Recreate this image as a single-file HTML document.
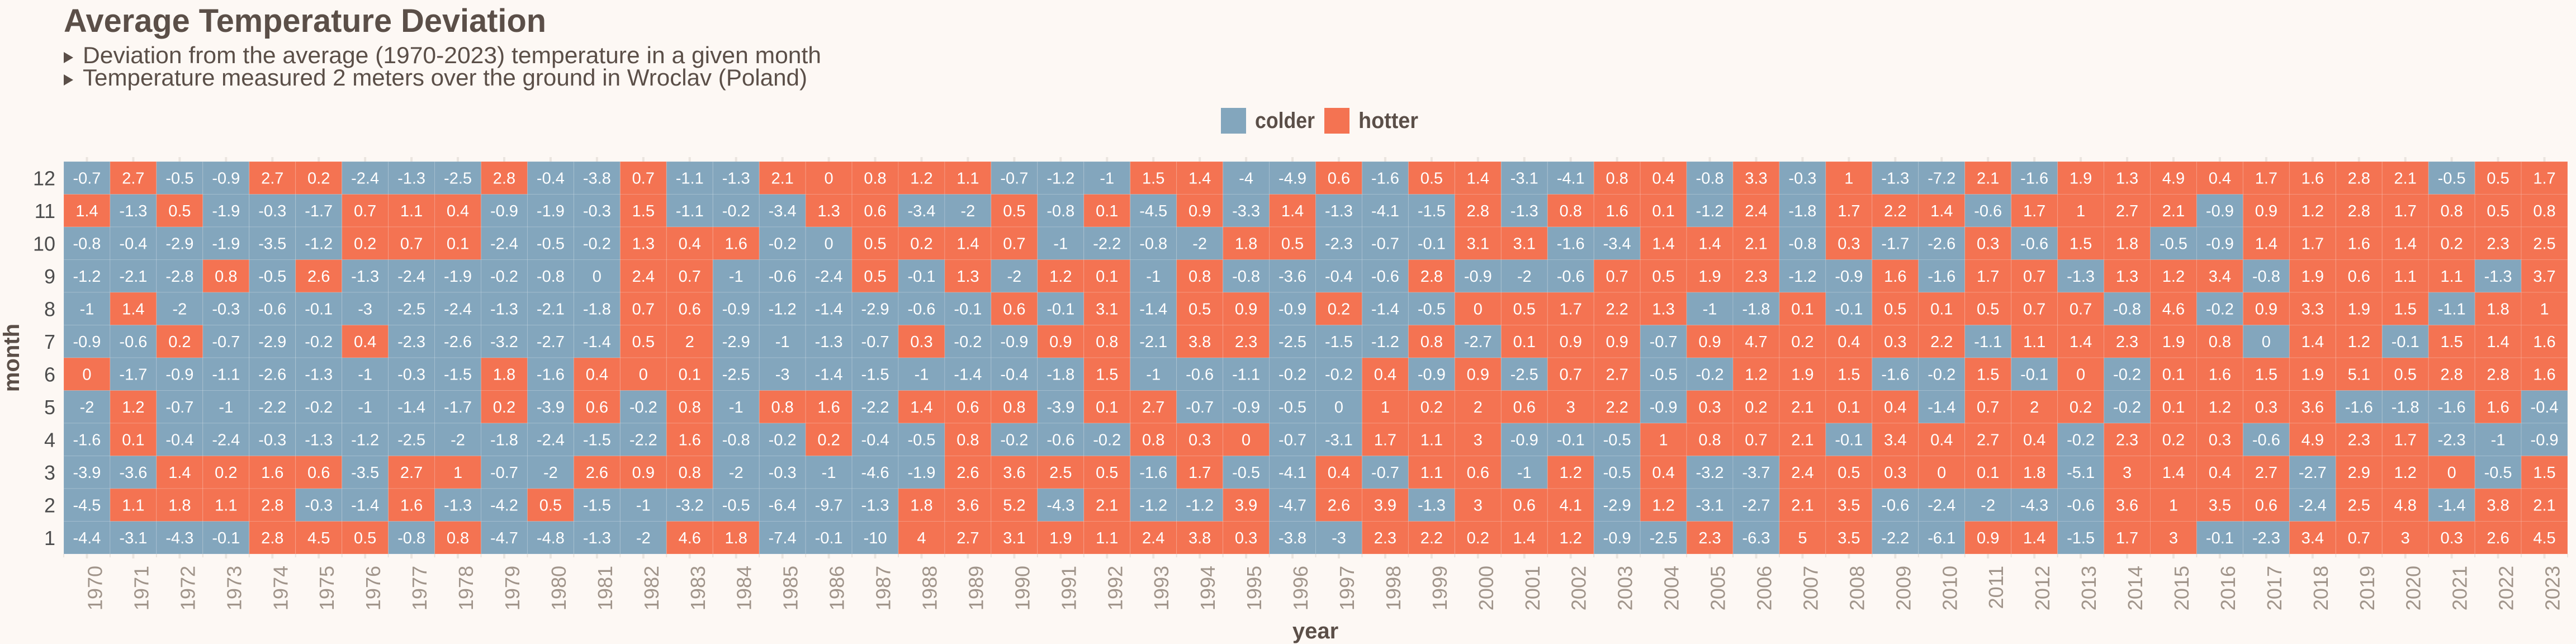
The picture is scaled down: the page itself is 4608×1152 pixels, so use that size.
<!DOCTYPE html>
<html><head><meta charset="utf-8"><title>Average Temperature Deviation</title>
<style>
html,body{margin:0;padding:0;background:#fdf8f4;}
svg{display:block;font-family:"Liberation Sans",sans-serif;}
</style></head>
<body>
<svg id="chart" width="4608" height="1152" viewBox="0 0 4608 1152" xmlns="http://www.w3.org/2000/svg">
<rect width="4608" height="1152" fill="#fdf8f4"/>
<text x="114" y="57" font-size="58" font-weight="bold" fill="#5b4f48" textLength="863" lengthAdjust="spacingAndGlyphs">Average Temperature Deviation</text>
<polygon points="114,93 131,103 114,113" fill="#5b4f48"/>
<text x="148" y="113" font-size="42" fill="#5b4f48" textLength="1321" lengthAdjust="spacingAndGlyphs">Deviation from the average (1970-2023) temperature in a given month</text>
<polygon points="114,133 131,143 114,153" fill="#5b4f48"/>
<text x="148" y="153" font-size="42" fill="#5b4f48" textLength="1296" lengthAdjust="spacingAndGlyphs">Temperature  measured 2 meters over the ground in Wroclav (Poland)</text>
<g>
<rect x="2184" y="193" width="45" height="46" fill="#83a6bd"/>
<text x="2245" y="229" font-size="40" font-weight="bold" fill="#5b4f48" textLength="107" lengthAdjust="spacingAndGlyphs">colder</text>
<rect x="2369" y="193" width="45" height="46" fill="#f47352"/>
<text x="2430" y="229" font-size="40" font-weight="bold" fill="#5b4f48" textLength="107" lengthAdjust="spacingAndGlyphs">hotter</text>
</g>
<text transform="translate(34,640) rotate(-90)" text-anchor="middle" font-size="40" font-weight="bold" fill="#5b4f48">month</text>
<text x="2353" y="1142" text-anchor="middle" font-size="40" font-weight="bold" fill="#5b4f48">year</text>
<g id="cells"></g>
<g id="xticks"></g>
<g id="yticks"></g>
</svg>
<script>
const years = [1970,1971,1972,1973,1974,1975,1976,1977,1978,1979,1980,1981,1982,1983,1984,1985,1986,1987,1988,1989,1990,1991,1992,1993,1994,1995,1996,1997,1998,1999,2000,2001,2002,2003,2004,2005,2006,2007,2008,2009,2010,2011,2012,2013,2014,2015,2016,2017,2018,2019,2020,2021,2022,2023];
const monthLabels = [12,11,10,9,8,7,6,5,4,3,2,1];
const dec = [-0.7,2.7,-0.5,-0.9,2.7,0.2,-2.4,-1.3,-2.5, 2.8,-0.4,-3.8,0.7,-1.1,-1.3,2.1,0,0.8, 1.2,1.1,-0.7,-1.2,-1,1.5,1.4,-4,-4.9, 0.6,-1.6,0.5,1.4,-3.1,-4.1,0.8,0.4,-0.8, 3.3,-0.3,1,-1.3,-7.2,2.1,-1.6,1.9,1.3, 4.9,0.4,1.7,1.6,2.8,2.1,-0.5,0.5,1.7];
const nov = [1.4,-1.3,0.5,-1.9,-0.3,-1.7,0.7,1.1,0.4, -0.9,-1.9,-0.3,1.5,-1.1,-0.2,-3.4,1.3,0.6, -3.4,-2,0.5,-0.8,0.1,-4.5,0.9,-3.3,1.4, -1.3,-4.1,-1.5,2.8,-1.3,0.8,1.6,0.1,-1.2, 2.4,-1.8,1.7,2.2,1.4,-0.6,1.7,1,2.7, 2.1,-0.9,0.9,1.2,2.8,1.7,0.8,0.5,0.8];
const oct = [-0.8,-0.4,-2.9,-1.9,-3.5,-1.2,0.2,0.7,0.1, -2.4,-0.5,-0.2,1.3,0.4,1.6,-0.2,-0,0.5, 0.2,1.4,0.7,-1,-2.2,-0.8,-2,1.8,0.5, -2.3,-0.7,-0.1,3.1,3.1,-1.6,-3.4,1.4,1.4, 2.1,-0.8,0.3,-1.7,-2.6,0.3,-0.6,1.5,1.8, -0.5,-0.9,1.4,1.7,1.6,1.4,0.2,2.3,2.5];
const sep = [-1.2,-2.1,-2.8,0.8,-0.5,2.6,-1.3,-2.4,-1.9, -0.2,-0.8,-0,2.4,0.7,-1,-0.6,-2.4,0.5, -0.1,1.3,-2,1.2,0.1,-1,0.8,-0.8,-3.6, -0.4,-0.6,2.8,-0.9,-2,-0.6,0.7,0.5,1.9, 2.3,-1.2,-0.9,1.6,-1.6,1.7,0.7,-1.3,1.3, 1.2,3.4,-0.8,1.9,0.6,1.1,1.1,-1.3,3.7];
const aug = [-1,1.4,-2,-0.3,-0.6,-0.1,-3,-2.5,-2.4, -1.3,-2.1,-1.8,0.7,0.6,-0.9,-1.2,-1.4,-2.9, -0.6,-0.1,0.6,-0.1,3.1,-1.4,0.5,0.9,-0.9, 0.2,-1.4,-0.5,0,0.5,1.7,2.2,1.3,-1, -1.8,0.1,-0.1,0.5,0.1,0.5,0.7,0.7,-0.8, 4.6,-0.2,0.9,3.3,1.9,1.5,-1.1,1.8,1];
const jul = [-0.9,-0.6,0.2,-0.7,-2.9,-0.2,0.4,-2.3,-2.6, -3.2,-2.7,-1.4,0.5,2,-2.9,-1,-1.3,-0.7, 0.3,-0.2,-0.9,0.9,0.8,-2.1,3.8,2.3,-2.5, -1.5,-1.2,0.8,-2.7,0.1,0.9,0.9,-0.7,0.9, 4.7,0.2,0.4,0.3,2.2,-1.1,1.1,1.4,2.3, 1.9,0.8,-0,1.4,1.2,-0.1,1.5,1.4,1.6];
const jun = [0,-1.7,-0.9,-1.1,-2.6,-1.3,-1,-0.3,-1.5, 1.8,-1.6,0.4,0,0.1,-2.5,-3,-1.4,-1.5, -1,-1.4,-0.4,-1.8,1.5,-1,-0.6,-1.1,-0.2, -0.2,0.4,-0.9,0.9,-2.5,0.7,2.7,-0.5,-0.2, 1.2,1.9,1.5,-1.6,-0.2,1.5,-0.1,0,-0.2, 0.1,1.6,1.5,1.9,5.1,0.5,2.8,2.8,1.6];
const may = [-2,1.2,-0.7,-1,-2.2,-0.2,-1,-1.4,-1.7, 0.2,-3.9,0.6,-0.2,0.8,-1,0.8,1.6,-2.2, 1.4,0.6,0.8,-3.9,0.1,2.7,-0.7,-0.9,-0.5, -0,1,0.2,2,0.6,3,2.2,-0.9,0.3, 0.2,2.1,0.1,0.4,-1.4,0.7,2,0.2,-0.2, 0.1,1.2,0.3,3.6,-1.6,-1.8,-1.6,1.6,-0.4];
const apr = [-1.6,0.1,-0.4,-2.4,-0.3,-1.3,-1.2,-2.5,-2, -1.8,-2.4,-1.5,-2.2,1.6,-0.8,-0.2,0.2,-0.4, -0.5,0.8,-0.2,-0.6,-0.2,0.8,0.3,0,-0.7, -3.1,1.7,1.1,3,-0.9,-0.1,-0.5,1,0.8, 0.7,2.1,-0.1,3.4,0.4,2.7,0.4,-0.2,2.3, 0.2,0.3,-0.6,4.9,2.3,1.7,-2.3,-1,-0.9];
const mar = [-3.9,-3.6,1.4,0.2,1.6,0.6,-3.5,2.7,1, -0.7,-2,2.6,0.9,0.8,-2,-0.3,-1,-4.6, -1.9,2.6,3.6,2.5,0.5,-1.6,1.7,-0.5,-4.1, 0.4,-0.7,1.1,0.6,-1,1.2,-0.5,0.4,-3.2, -3.7,2.4,0.5,0.3,0,0.1,1.8,-5.1,3, 1.4,0.4,2.7,-2.7,2.9,1.2,0,-0.5,1.5];
const feb = [-4.5,1.1,1.8,1.1,2.8,-0.3,-1.4,1.6,-1.3, -4.2,0.5,-1.5,-1,-3.2,-0.5,-6.4,-9.7,-1.3, 1.8,3.6,5.2,-4.3,2.1,-1.2,-1.2,3.9,-4.7, 2.6,3.9,-1.3,3,0.6,4.1,-2.9,1.2,-3.1, -2.7,2.1,3.5,-0.6,-2.4,-2,-4.3,-0.6,3.6, 1,3.5,0.6,-2.4,2.5,4.8,-1.4,3.8,2.1];
const jan = [-4.4,-3.1,-4.3,-0.1,2.8,4.5,0.5,-0.8,0.8, -4.7,-4.8,-1.3,-2,4.6,1.8,-7.4,-0.1,-10, 4,2.7,3.1,1.9,1.1,2.4,3.8,0.3,-3.8, -3,2.3,2.2,0.2,1.4,1.2,-0.9,-2.5,2.3, -6.3,5,3.5,-2.2,-6.1,0.9,1.4,-1.5,1.7, 3,-0.1,-2.3,3.4,0.7,3,0.3,2.6,4.5];
const rows = [dec,nov,oct,sep,aug,jul,jun,may,apr,mar,feb,jan];

const NS = 'http://www.w3.org/2000/svg';
const plotL = 114, plotR = 4593, plotT = 289, plotB = 991;
const colW = (plotR - plotL) / years.length;
const rowH = (plotB - plotT) / monthLabels.length;
function xScale(i){ return plotL + i * colW; }
function yScale(j){ return plotT + j * rowH; }
function isHot(v){ return v > 0 || Object.is(v, 0); }

const cells = document.getElementById('cells');
rows.forEach(function(row, j){
  row.forEach(function(v, i){
    const r = document.createElementNS(NS, 'rect');
    r.setAttribute('x', xScale(i));
    r.setAttribute('y', yScale(j));
    r.setAttribute('width', colW);
    r.setAttribute('height', rowH);
    r.setAttribute('fill', isHot(v) ? '#f47352' : '#83a6bd');
    r.setAttribute('stroke', 'rgba(255,255,255,0.18)');
    r.setAttribute('stroke-width', '1');
    
    
    cells.appendChild(r);
    const t = document.createElementNS(NS, 'text');
    t.setAttribute('x', xScale(i) + colW / 2);
    t.setAttribute('y', yScale(j) + rowH / 2 + 10);
    t.setAttribute('text-anchor', 'middle');
    t.setAttribute('font-size', '29');
    t.setAttribute('fill', '#ffffff');
    
    
    t.textContent = String(v);
    cells.appendChild(t);
  });
});

const xt = document.getElementById('xticks');
for (let i = 0; i <= years.length; i++) {
  const l = document.createElementNS(NS, 'line');
  l.setAttribute('x1', xScale(i)); l.setAttribute('x2', xScale(i));
  l.setAttribute('y1', plotB); l.setAttribute('y2', plotB + 6);
  l.setAttribute('stroke', '#ebe5df'); l.setAttribute('stroke-width', '2');
  
  
  xt.appendChild(l);
}
years.forEach(function(y, i){
  const cx = xScale(i) + colW / 2;
  const tk = document.createElementNS(NS, 'line');
  tk.setAttribute('x1', cx); tk.setAttribute('x2', cx);
  tk.setAttribute('y1', plotB); tk.setAttribute('y2', plotB + 8);
  tk.setAttribute('stroke', '#ebe5df'); tk.setAttribute('stroke-width', '4');
  
  
  xt.appendChild(tk);
  const tt = document.createElementNS(NS, 'line');
  tt.setAttribute('x1', cx); tt.setAttribute('x2', cx);
  tt.setAttribute('y1', plotT - 8); tt.setAttribute('y2', plotT);
  tt.setAttribute('stroke', '#ebe5df'); tt.setAttribute('stroke-width', '4');
  
  
  xt.appendChild(tt);
  const t = document.createElementNS(NS, 'text');
  t.setAttribute('transform', 'translate(' + (cx + 27) + ',' + (plotB + 21) + ') rotate(-90)');
  t.setAttribute('text-anchor', 'end');
  t.setAttribute('font-size', '36');
  t.setAttribute('fill', '#a0948a');
  
  
  t.textContent = String(y);
  xt.appendChild(t);
});

const yt = document.getElementById('yticks');
monthLabels.forEach(function(m, j){
  const t = document.createElementNS(NS, 'text');
  t.setAttribute('x', 99);
  t.setAttribute('y', yScale(j) + rowH / 2 + 13);
  t.setAttribute('text-anchor', 'end');
  t.setAttribute('font-size', '36');
  t.setAttribute('fill', '#4d4d4d');
  
  
  t.textContent = String(m);
  yt.appendChild(t);
});
</script>
</body></html>
